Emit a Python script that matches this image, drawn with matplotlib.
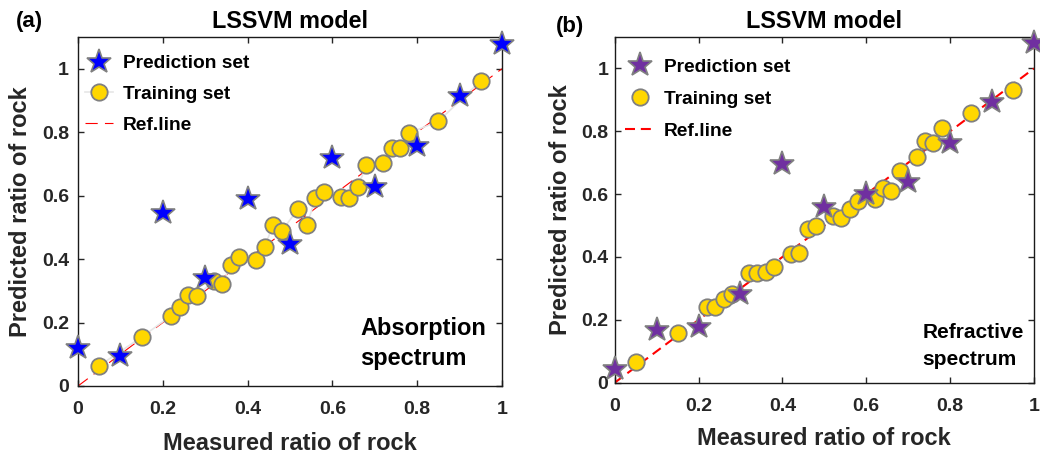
import matplotlib
matplotlib.use("Agg")
import matplotlib.pyplot as plt
from matplotlib.lines import Line2D

# ---------------- data ----------------
train_x_a = [0.05, 0.15, 0.22, 0.24, 0.26, 0.28, 0.32, 0.34, 0.36, 0.38, 0.42, 0.44, 0.46, 0.48,
             0.52, 0.54, 0.56, 0.58, 0.62, 0.64, 0.66, 0.68, 0.72, 0.74, 0.76, 0.78, 0.85, 0.95]
train_y_a = [0.064, 0.154, 0.222, 0.248, 0.288, 0.284, 0.330, 0.320, 0.380, 0.407, 0.398, 0.439, 0.506, 0.488,
             0.559, 0.507, 0.592, 0.612, 0.596, 0.592, 0.628, 0.695, 0.703, 0.750, 0.750, 0.797, 0.834, 0.962]
pred_x_a = [0.0, 0.1, 0.2, 0.3, 0.4, 0.5, 0.6, 0.7, 0.8, 0.9, 1.0]
pred_y_a = [0.119, 0.095, 0.546, 0.339, 0.588, 0.446, 0.718, 0.626, 0.757, 0.913, 1.079]

train_x_b = [0.05, 0.15, 0.22, 0.24, 0.26, 0.28, 0.32, 0.34, 0.36, 0.38, 0.42, 0.44, 0.46, 0.48,
             0.52, 0.54, 0.56, 0.58, 0.62, 0.64, 0.66, 0.68, 0.72, 0.74, 0.76, 0.78, 0.85, 0.95]
train_y_b = [0.067, 0.157, 0.240, 0.240, 0.265, 0.281, 0.350, 0.350, 0.353, 0.369, 0.409, 0.414, 0.489, 0.498,
             0.530, 0.523, 0.552, 0.578, 0.584, 0.620, 0.610, 0.673, 0.719, 0.769, 0.763, 0.809, 0.857, 0.931]
pred_x_b = [0.0, 0.1, 0.2, 0.3, 0.4, 0.5, 0.6, 0.7, 0.8, 0.9, 1.0]
pred_y_b = [0.044, 0.168, 0.178, 0.281, 0.695, 0.560, 0.602, 0.639, 0.763, 0.894, 1.080]

ref_x = [0, 1]
ref_y = [0, 1]

ticks = [0, 0.2, 0.4, 0.6, 0.8, 1.0]
tick_labels = ["0", "0.2", "0.4", "0.6", "0.8", "1"]
legend_labels = ['Prediction set', 'Training set', 'Ref.line']

plt.rcParams['font.family'] = ['Liberation Sans', 'DejaVu Sans']
plt.rcParams['font.weight'] = 'bold'

W, H = 1040, 457
fig = plt.figure(figsize=(W / 100, H / 100), dpi=100)


def px_axes(l, r, t, b):
    return [l / W, 1 - b / H, (r - l) / W, (b - t) / H]


ax1 = fig.add_axes(px_axes(78, 502, 37, 386))
ax2 = fig.add_axes(px_axes(614.7, 1034, 37, 382.7))

tc = '#262626'
MS_STAR = 18.5
MS_CIRC = 11.8


def setup(ax, train_x, train_y, pred_x, pred_y, star_color, line_color,
          ref_lw, ref_dash, ytick_pad, leg_anchor, leg_spacing, handle_len, text_pad,
          xlab_y, ylab_x, title_y):
    ax.plot(ref_x, ref_y, color='red', lw=ref_lw, dashes=ref_dash, zorder=2)
    if line_color is not None:
        ax.plot(train_x, train_y, color=line_color, lw=1.2, zorder=2.5)
    ax.plot(train_x, train_y, 'o', ms=MS_CIRC, mfc='#ffd700', mec='#808080', mew=1.3,
            ls='none', zorder=3, clip_on=False)
    ax.plot(pred_x, pred_y, '*', ms=MS_STAR, mfc=star_color, mec='#808080', mew=1.2,
            ls='none', zorder=4, clip_on=False)
    ax.set_xlim(0, 1)
    ax.set_ylim(0, 1.1)
    ax.set_xticks(ticks)
    ax.set_xticklabels(tick_labels)
    ax.set_yticks(ticks)
    ax.set_yticklabels(tick_labels)
    ax.tick_params(direction='in', length=4, width=1, top=True, right=True,
                   labelsize=14, colors=tc)
    ax.tick_params(axis='x', pad=11)
    ax.tick_params(axis='y', pad=ytick_pad)
    for lab in ax.get_xticklabels() + ax.get_yticklabels():
        lab.set_fontweight('bold')
        lab.set_color(tc)
    for s in ax.spines.values():
        s.set_linewidth(1.0)
        s.set_color('#1a1a1a')
    ax.set_xlabel('Measured ratio of rock', fontsize=17, fontweight='bold', color=tc, va='baseline')
    ax.set_ylabel('Predicted ratio of rock', fontsize=17, fontweight='bold', color=tc, va='baseline')
    ax.xaxis.set_label_coords(0.5, xlab_y)
    ax.yaxis.set_label_coords(ylab_x, 0.5)
    ax.text(0.5, title_y, 'LSSVM model', transform=ax.transAxes, ha='center', va='baseline',
            fontsize=16.8, fontweight='bold', color='black')

    h_pred = Line2D([], [], marker='*', ms=MS_STAR, mfc=star_color, mec='#808080', mew=1.2, ls='none')
    if line_color is not None:
        h_train = Line2D([], [], marker='o', ms=MS_CIRC, mfc='#ffd700', mec='#808080', mew=1.3,
                         color=line_color, lw=1.2)
    else:
        h_train = Line2D([], [], marker='o', ms=MS_CIRC, mfc='#ffd700', mec='#808080', mew=1.3, ls='none')
    h_ref = Line2D([], [], color='red', lw=ref_lw, dashes=ref_dash)
    leg = ax.legend([h_pred, h_train, h_ref], legend_labels,
                    loc='center left', bbox_to_anchor=leg_anchor, frameon=False,
                    fontsize=13.8, handlelength=handle_len, labelspacing=leg_spacing,
                    borderaxespad=0, borderpad=0, handletextpad=text_pad)
    for t in leg.get_texts():
        t.set_fontweight('bold')
    return ax


setup(ax1, train_x_a, train_y_a, pred_x_a, pred_y_a, '#0000ff', '#e6e6e6',
      0.8, (11, 6.5), 6.5, (0.0165, 0.836), 0.69, 1.46, 0.52,
      (450 - 386) / -349, (26.7 - 78) / 424, (386 - 28) / 349)
setup(ax2, train_x_b, train_y_b, pred_x_b, pred_y_b, '#7030a0', None,
      1.5, (4.8, 2.8), 4.5, (0.0246, 0.821), 0.76, 1.56, 0.47,
      (445 - 382.7) / -345.7, (567 - 614.7) / 419.3, (382.7 - 27.5) / 345.7)

ax1.text((360 - 78) / 424, (386 - 365) / 349, 'Absorption\nspectrum', transform=ax1.transAxes,
         ha='left', va='baseline', multialignment='left',
         fontsize=17, fontweight='bold', color='black', linespacing=1.39)
ax2.text((922.5 - 614.7) / 419.3, (382.7 - 365) / 345.7, 'Refractive\nspectrum', transform=ax2.transAxes,
         ha='left', va='baseline', multialignment='left',
         fontsize=15, fontweight='bold', color='black', linespacing=1.55)

fig.text(16 / W, 1 - 22 / H, '(a)', fontsize=16, fontweight='bold', va='center', ha='left')
fig.text(556 / W, 1 - 26.5 / H, '(b)', fontsize=16, fontweight='bold', va='center', ha='left')

fig.savefig('out.png', dpi=100)
